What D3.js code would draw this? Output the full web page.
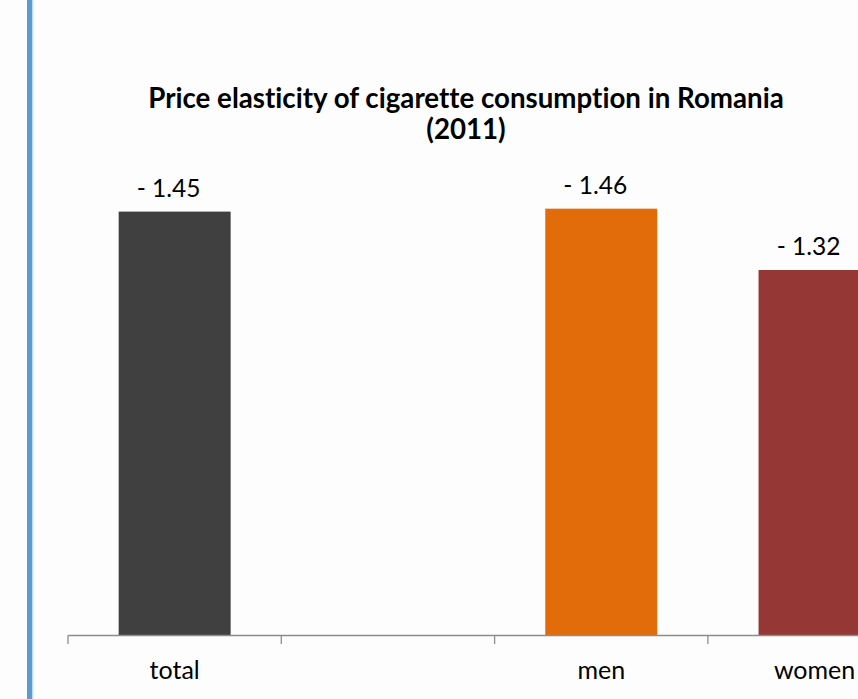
<!DOCTYPE html>
<html><head><meta charset="utf-8">
<script src="https://cdn.jsdelivr.net/npm/d3@7/dist/d3.min.js"></script>
<style>
html,body{margin:0;padding:0;background:#fff;overflow:hidden;}
svg{display:block;}
text{font-variant-ligatures:none;}
</style></head>
<body><svg id="chart" width="858" height="699"></svg>
<script>
const categories = ["total", "", "men", "women"];
const values = [1.45, null, 1.46, 1.25];          // bar heights as drawn (elasticity magnitude)
const valueLabels = ["- 1.45", "", "- 1.46", "- 1.32"];
const colors = ["#404040", "none", "#e36c0a", "#953735"];
const titleLines = ["Price elasticity of cigarette consumption in Romania", "(2011)"];

const svg = d3.select("#chart");
const W = 858, H = 699;
svg.append("rect").attr("width", W).attr("height", H).attr("fill", "#fdfdfd");

// left accent rule of the slide
svg.append("rect").attr("x", 27).attr("y", 0).attr("width", 5.5).attr("height", H).attr("fill", "#5b9bd5");
svg.append("rect").attr("x", 32.5).attr("y", 0).attr("width", 1).attr("height", H).attr("fill", "#d6e6f5");

const x0 = 68, step = 213.3, base = 635;
const x = d3.scaleBand().domain(categories).range([x0, x0 + step * categories.length])
  .paddingInner(0.475).paddingOuter(0.2375);
const y = d3.scaleLinear().domain([0, 1.6]).range([base, base - 1.6 * 292]);

const font = "Lato, 'Open Sans', 'DejaVu Sans', sans-serif";

// title
const title = svg.append("text").attr("text-anchor", "middle").attr("font-family", font)
  .attr("font-weight", "bold").attr("fill", "#000");
titleLines.forEach((t, i) => {
  title.append("tspan").attr("x", 466).attr("y", 108 + i * 31).text(t);
});
title.attr("font-size", 22);
const w1 = title.select("tspan").node().getComputedTextLength();
title.attr("font-size", 22 * 636 / w1);

// bars
const data = categories.map((c, i) => ({c, v: values[i], label: valueLabels[i], color: colors[i]}))
  .filter(d => d.v != null);
svg.append("g").selectAll("rect").data(data).join("rect")
  .attr("x", d => x(d.c)).attr("width", x.bandwidth())
  .attr("y", d => y(d.v)).attr("height", d => y(0) - y(d.v))
  .attr("fill", d => d.color);

svg.append("g").selectAll("text").data(data).join("text")
  .attr("x", d => x(d.c) + x.bandwidth() / 2 - 6)
  .attr("y", d => y(d.v) - 15)
  .attr("text-anchor", "middle").attr("font-family", font).attr("font-size", 24.5)
  .attr("fill", "#000").text(d => d.label);

// x axis
const axis = d3.axisBottom(x).tickSize(0).tickPadding(26);
const ax = svg.append("g").attr("transform", `translate(0,${base})`).call(axis);
ax.select(".domain").attr("stroke", "#8c8c8c").attr("stroke-width", 1.3);
ax.selectAll("text").attr("font-family", font).attr("font-size", 25).attr("fill", "#000");
const bounds = d3.range(categories.length + 1).map(i => x0 + i * step);
ax.selectAll(".bound").data(bounds).join("line").attr("class", "bound")
  .attr("x1", d => d).attr("x2", d => d).attr("y1", 0).attr("y2", 9)
  .attr("stroke", "#8c8c8c").attr("stroke-width", 1.3);
</script></body></html>
